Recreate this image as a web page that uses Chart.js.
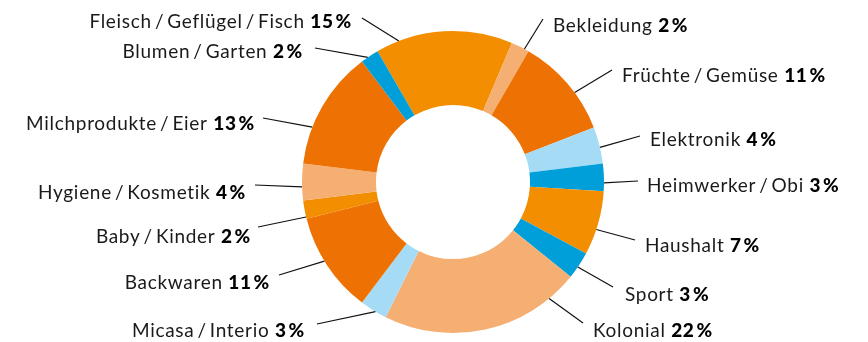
<!DOCTYPE html>
<html lang="de">
<head>
<meta charset="utf-8">
<title>Umsatzanteile nach Warengruppe</title>
<script src="https://cdn.jsdelivr.net/npm/chart.js@4/dist/chart.umd.min.js"></script>
<style>
  html, body { margin: 0; padding: 0; background: #ffffff; }
  #wrap { width: 868px; height: 342px; position: relative; }
</style>
</head>
<body>
<div id="wrap"><canvas id="c" width="868" height="342"></canvas></div>
<script>
// Warengruppen im Uhrzeigersinn, beginnend bei Fleisch / Geflügel / Fisch
const categories = [
  'Fleisch\u2009/\u2009Geflügel\u2009/\u2009Fisch',
  'Bekleidung',
  'Früchte\u2009/\u2009Gemüse',
  'Elektronik',
  'Heimwerker\u2009/\u2009Obi',
  'Haushalt',
  'Sport',
  'Kolonial',
  'Micasa\u2009/\u2009Interio',
  'Backwaren',
  'Baby\u2009/\u2009Kinder',
  'Hygiene\u2009/\u2009Kosmetik',
  'Milchprodukte\u2009/\u2009Eier',
  'Blumen\u2009/\u2009Garten'
];

// Anteile in Prozent
const shares = [15, 2, 11, 4, 3, 7, 3, 22, 3, 11, 2, 4, 13, 2];

// Farbpalette
const ORANGE = '#F28E00';
const DARK_ORANGE = '#EE7203';
const PEACH = '#F5AF72';
const LIGHT_BLUE = '#A6DBF5';
const BLUE = '#009FDA';
const sliceColors = [
  ORANGE, PEACH, DARK_ORANGE, LIGHT_BLUE, BLUE, ORANGE, BLUE,
  PEACH, LIGHT_BLUE, DARK_ORANGE, ORANGE, PEACH, DARK_ORANGE, BLUE
];

// Beschriftungen: Textanker (x, Grundlinie), Ausrichtung, äusserer Linienpunkt,
// und Position des inneren Linienendes innerhalb des Segments (0..1)
const labelLayout = [
  { x: 352, y: 28,  align: 'right', lx: 362, ly: 18,  f: 0.17 },
  { x: 553, y: 32,  align: 'left',  lx: 543, ly: 19,  f: 0.75 },
  { x: 622, y: 82,  align: 'left',  lx: 612, ly: 70,  f: 0.61 },
  { x: 650, y: 146, align: 'left',  lx: 640, ly: 136, f: 0.56 },
  { x: 647, y: 192, align: 'left',  lx: 638, ly: 181, f: 0.70 },
  { x: 645, y: 252, align: 'left',  lx: 635, ly: 240, f: 0.60 },
  { x: 625, y: 301, align: 'left',  lx: 613, ly: 287, f: 0.57 },
  { x: 593, y: 337, align: 'left',  lx: 583, ly: 323, f: 0.15 },
  { x: 305, y: 337, align: 'right', lx: 317, ly: 324, f: 0.42 },
  { x: 270, y: 289, align: 'right', lx: 279, ly: 275, f: 0.55 },
  { x: 251, y: 243, align: 'right', lx: 258, ly: 227, f: 0.10 },
  { x: 246, y: 199, align: 'right', lx: 255, ly: 185, f: 0.37 },
  { x: 255, y: 130, align: 'right', lx: 263, ly: 118, f: 0.31 },
  { x: 303, y: 58,  align: 'right', lx: 315, ly: 48,  f: 0.38 }
];

const FONT_FAMILY = 'Lato, "Open Sans", "DejaVu Sans", sans-serif';
const FONT_SIZE = 19;
const LETTER_SPACING = '0.7px';

// Zeichnet Führungslinien und Beschriftungen ausserhalb des Rings
const calloutPlugin = {
  id: 'callouts',
  afterDatasetsDraw(chart) {
    const ctx = chart.ctx;
    const meta = chart.getDatasetMeta(0);
    ctx.save();
    if ('letterSpacing' in ctx) ctx.letterSpacing = LETTER_SPACING;
    meta.data.forEach((arc, i) => {
      const p = labelLayout[i];
      const a = arc.startAngle + p.f * (arc.endAngle - arc.startAngle);
      const ex = arc.x + arc.outerRadius * Math.cos(a);
      const ey = arc.y + arc.outerRadius * Math.sin(a);
      ctx.beginPath();
      ctx.moveTo(p.lx, p.ly);
      ctx.lineTo(ex, ey);
      ctx.strokeStyle = '#111111';
      ctx.lineWidth = 1.2;
      ctx.stroke();

      const name = categories[i] + ' ';
      const pct = shares[i] + '\u200A%';
      ctx.textBaseline = 'alphabetic';
      ctx.textAlign = 'left';
      ctx.font = '400 ' + FONT_SIZE + 'px ' + FONT_FAMILY;
      const wName = ctx.measureText(name).width;
      ctx.font = '900 ' + FONT_SIZE + 'px ' + FONT_FAMILY;
      const wPct = ctx.measureText(pct).width;
      const x0 = p.align === 'right' ? p.x - wName - wPct : p.x;
      ctx.font = '400 ' + FONT_SIZE + 'px ' + FONT_FAMILY;
      ctx.fillStyle = '#1a1a1a';
      ctx.fillText(name, x0, p.y);
      ctx.font = '900 ' + FONT_SIZE + 'px ' + FONT_FAMILY;
      ctx.fillStyle = '#000000';
      ctx.fillText(pct, x0 + wName, p.y);
    });
    ctx.restore();
  }
};

new Chart(document.getElementById('c'), {
  type: 'doughnut',
  data: {
    labels: categories,
    datasets: [{
      data: shares,
      backgroundColor: sliceColors,
      borderWidth: 0,
      hoverOffset: 0
    }]
  },
  options: {
    responsive: false,
    animation: false,
    rotation: -30,
    cutout: '51%',
    layout: { padding: { top: 31, bottom: 9, left: 238, right: 200 } },
    plugins: {
      legend: { display: false },
      tooltip: { enabled: false }
    },
    events: []
  },
  plugins: [calloutPlugin]
});
</script>
</body>
</html>
